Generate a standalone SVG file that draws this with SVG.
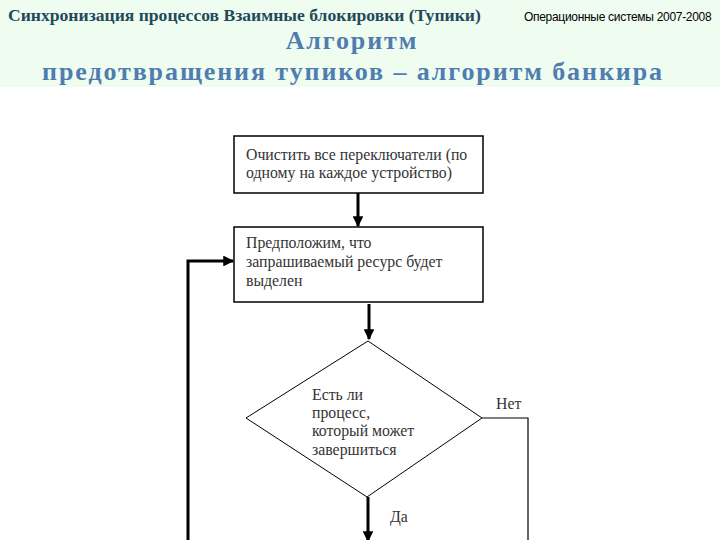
<svg xmlns="http://www.w3.org/2000/svg" width="720" height="540" viewBox="0 0 720 540">
<style>
.hdr{font-family:"Liberation Serif","DejaVu Serif",serif;font-weight:bold;fill:#1f4a5a;font-size:17.6px}
.sub{font-family:"Liberation Sans","DejaVu Sans",sans-serif;font-size:12px;fill:#000;letter-spacing:-0.3px}
.ttl{font-family:"Liberation Serif","DejaVu Serif",serif;font-weight:bold;fill:#4f7db0;font-size:26px;text-anchor:middle;letter-spacing:1.9px}
.box{fill:#fff;stroke:#000;stroke-width:1.5}
.t{font-family:"Liberation Serif","DejaVu Serif",serif;font-size:15.8px;fill:#333}
.ln{fill:none;stroke:#000;stroke-width:1.2}
.ar{fill:none;stroke:#000;stroke-width:3}
</style>
<defs>
<marker id="ah" viewBox="0 0 10 10" refX="9" refY="5" markerWidth="3.6" markerHeight="3.6" orient="auto" markerUnits="strokeWidth">
<path d="M0,0 L10,5 L0,10 Z" fill="#000"/>
</marker>
</defs>
<rect x="0" y="0" width="720" height="87" fill="#effcf0"/>
<rect x="0" y="87" width="720" height="453" fill="#fff"/>
<text class="hdr" x="8" y="21">Синхронизация процессов  Взаимные блокировки (Тупики)</text>
<text class="sub" x="524" y="21">Операционные системы 2007-2008</text>
<text class="ttl" x="352" y="49">Алгоритм</text>
<text class="ttl" x="353" y="80">предотвращения тупиков – алгоритм банкира</text>
<g id="connectors">
<line class="ar" x1="358" y1="193" x2="358" y2="226" marker-end="url(#ah)"/>
<polyline class="ar" points="188,540 188,261 233,261" marker-end="url(#ah)"/>
<line class="ar" x1="369" y1="304" x2="369" y2="339" marker-end="url(#ah)"/>
<line class="ar" x1="368" y1="497" x2="368" y2="541" marker-end="url(#ah)"/>
<polyline class="ln" points="482,418 528,418 528,540"/>
<text class="t" x="496" y="409">Нет</text>
<text class="t" x="390" y="522">Да</text>
</g>
<g id="n1">
<rect class="box" x="234" y="136" width="249" height="57"/>
<text class="t" x="246" y="160">Очистить все переключатели (по</text>
<text class="t" x="246" y="178">одному на каждое устройство)</text>
</g>
<g id="n2">
<rect class="box" x="234" y="227" width="249" height="75"/>
<text class="t" x="246" y="248">Предположим, что</text>
<text class="t" x="246" y="267">запрашиваемый ресурс будет</text>
<text class="t" x="246" y="286">выделен</text>
</g>
<g id="n3">
<polygon class="box" style="stroke-width:1" points="368,341 482,418 367,497 246,418"/>
<text class="t" x="312" y="400">Есть ли</text>
<text class="t" x="312" y="418">процесс,</text>
<text class="t" x="312" y="436">который может</text>
<text class="t" x="312" y="455">завершиться</text>
</g>
</svg>
